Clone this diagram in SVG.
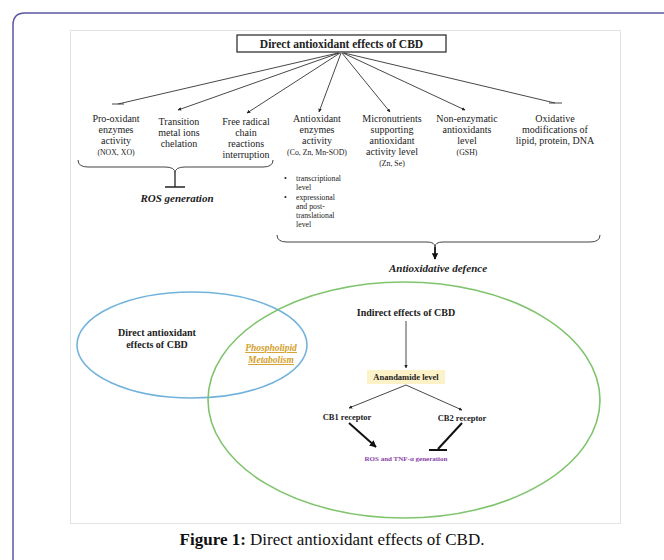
<svg xmlns="http://www.w3.org/2000/svg" width="664" height="560" viewBox="0 0 664 560">
<defs>
<style>
text{font-family:'Liberation Serif',serif}
.t{fill:#222;text-anchor:middle}
.lbl{font-size:10px}
.sm{font-size:7.8px}
.b{font-weight:bold}
.bi{font-weight:bold;font-style:italic;font-size:11px}
.ln{stroke:#333;stroke-width:0.9;fill:none}
.br{stroke:#444;stroke-width:1;fill:none}
</style>
<marker id="ah" viewBox="0 0 10 10" refX="9" refY="5" markerWidth="4" markerHeight="4" orient="auto">
<path d="M0,0 L10,5 L0,10 z" fill="#222"/>
</marker>
<marker id="ahb" viewBox="0 0 10 10" refX="9" refY="5" markerWidth="3.5" markerHeight="3.5" orient="auto">
<path d="M0,0 L10,5 L0,10 z" fill="#111"/>
</marker>
</defs>
<rect width="664" height="560" fill="#fff"/>
<path d="M13,560 V25 Q13,13 25,13 H664" fill="none" stroke="#5b55a0" stroke-width="1.5"/>
<rect x="70.5" y="30.5" width="550" height="493" fill="#fff" stroke="#e2e2e2" stroke-width="1"/>

<g id="ellipses">
<ellipse id="blue-ellipse" cx="192" cy="345" rx="115" ry="53" fill="none" stroke="#72b2dc" stroke-width="1.6"/>
<ellipse id="green-ellipse" cx="404" cy="400" rx="196" ry="118" fill="none" stroke="#7fc46c" stroke-width="1.6"/>
</g>

<g id="connectors">
<line class="ln" x1="338" y1="53" x2="118" y2="104"/>
<line class="ln" x1="112" y1="104" x2="124" y2="104"/>
<line class="ln" x1="339" y1="53" x2="178" y2="110" marker-end="url(#ah)"/>
<line class="ln" x1="340" y1="53" x2="247" y2="113" marker-end="url(#ah)"/>
<line class="ln" x1="341" y1="53" x2="319" y2="112" marker-end="url(#ah)"/>
<line class="ln" x1="342" y1="53" x2="390" y2="112" marker-end="url(#ah)"/>
<line class="ln" x1="343" y1="53" x2="465" y2="110" marker-end="url(#ah)"/>
<line class="ln" x1="344" y1="53" x2="555" y2="103"/>
<line class="ln" x1="549" y1="103" x2="562" y2="103"/>
<path class="br" d="M78,160 Q78,167 88,167 L165,167 Q175,167 175,173 Q175,167 185,167 L263,167 Q273,167 273,160"/>
<line x1="175" y1="173" x2="175" y2="187" stroke="#222" stroke-width="1.3"/>
<line x1="165" y1="187" x2="185" y2="187" stroke="#222" stroke-width="1.5"/>
<path class="br" d="M277,235 Q277,242 287,242 L427,242 Q435,242 435,247 Q435,242 443,242 L590,242 Q600,242 600,235"/>
<line x1="435" y1="247" x2="435" y2="259" stroke="#111" stroke-width="1.8" marker-end="url(#ahb)"/>
<line class="ln" x1="406" y1="321" x2="406" y2="368" marker-end="url(#ah)"/>
<line class="ln" x1="406" y1="385" x2="349" y2="408" marker-end="url(#ah)"/>
<line class="ln" x1="406" y1="385" x2="462" y2="410" marker-end="url(#ah)"/>
<line x1="349" y1="423" x2="376" y2="447" stroke="#111" stroke-width="2" marker-end="url(#ahb)"/>
<line x1="462" y1="423" x2="438" y2="449" stroke="#111" stroke-width="2"/>
<line x1="429" y1="450" x2="447" y2="450" stroke="#111" stroke-width="2"/>
</g>

<g id="title-node">
<rect x="237" y="35" width="209" height="17" fill="#fff" stroke="#222" stroke-width="1.2"/>
<text class="t b" x="341.5" y="47.5" font-size="11.5">Direct antioxidant effects of CBD</text>
</g>
<g id="pro-oxidant">
<text class="t lbl" x="116" y="122">Pro-oxidant</text>
<text class="t lbl" x="116" y="133">enzymes</text>
<text class="t lbl" x="116" y="144">activity</text>
<text class="t sm" x="116" y="155">(NOX, XO)</text>
</g>
<g id="transition">
<text class="t lbl" x="179" y="125">Transition</text>
<text class="t lbl" x="179" y="136">metal ions</text>
<text class="t lbl" x="179" y="147">chelation</text>
</g>
<g id="free-radical">
<text class="t lbl" x="246" y="125">Free radical</text>
<text class="t lbl" x="246" y="136">chain</text>
<text class="t lbl" x="246" y="147">reactions</text>
<text class="t lbl" x="246" y="158">interruption</text>
</g>
<g id="antioxidant-enzymes">
<text class="t lbl" x="317" y="122">Antioxidant</text>
<text class="t lbl" x="317" y="133">enzymes</text>
<text class="t lbl" x="317" y="144">activity</text>
<text class="t sm" x="317" y="155">(Co, Zn, Mn-SOD)</text>
<g font-size="7.8" fill="#222">
<text x="284" y="181">•</text>
<text x="296" y="181">transcriptional</text>
<text x="296" y="190">level</text>
<text x="284" y="200">•</text>
<text x="296" y="200">expressional</text>
<text x="296" y="209">and post-</text>
<text x="296" y="218">translational</text>
<text x="296" y="227">level</text>
</g>
</g>
<g id="micronutrients">
<text class="t lbl" x="392" y="122">Micronutrients</text>
<text class="t lbl" x="392" y="133">supporting</text>
<text class="t lbl" x="392" y="144">antioxidant</text>
<text class="t lbl" x="392" y="155">activity level</text>
<text class="t sm" x="392" y="166">(Zn, Se)</text>
</g>
<g id="non-enzymatic">
<text class="t lbl" x="467" y="122">Non-enzymatic</text>
<text class="t lbl" x="467" y="133">antioxidants</text>
<text class="t lbl" x="467" y="144">level</text>
<text class="t sm" x="467" y="155">(GSH)</text>
</g>
<g id="oxidative">
<text class="t lbl" x="555" y="122">Oxidative</text>
<text class="t lbl" x="555" y="133">modifications of</text>
<text class="t lbl" x="555" y="144">lipid, protein, DNA</text>
</g>
<g id="ros-generation">
<text class="t bi" x="177" y="202">ROS generation</text>
</g>
<g id="antioxidative-defence">
<text class="t bi" x="438" y="272">Antioxidative defence</text>
</g>
<g id="direct-effects">
<text class="t b" x="157" y="336" font-size="10">Direct antioxidant</text>
<text class="t b" x="157" y="348" font-size="10">effects of CBD</text>
</g>
<g id="phospholipid">
<text class="t" x="271" y="351" font-size="9.5" font-style="italic" font-weight="bold" style="fill:#d4a02a" text-decoration="underline">Phospholipid</text>
<text class="t" x="271" y="363" font-size="9.5" font-style="italic" font-weight="bold" style="fill:#d4a02a" text-decoration="underline">Metabolism</text>
</g>
<g id="indirect-effects">
<text class="t b" x="406" y="316" font-size="10">Indirect  effects of CBD</text>
</g>
<g id="anandamide">
<rect x="367" y="370" width="78" height="14" fill="#fdf1c8"/>
<text class="t b" x="406" y="380" font-size="8.5">Anandamide level</text>
</g>
<g id="cb1">
<text class="t b" x="347" y="420" font-size="8.5">CB1 receptor</text>
</g>
<g id="cb2">
<text class="t b" x="462" y="421" font-size="8.5">CB2 receptor</text>
</g>
<g id="ros-tnf">
<text class="t b" x="406" y="461" font-size="7" style="fill:#8a3fa6">ROS and TNF-α generation</text>
</g>
<g id="caption">
<text x="332" y="545" font-size="17" fill="#111" text-anchor="middle"><tspan font-weight="bold">Figure 1:</tspan> Direct antioxidant effects of CBD.</text>
</g>
</svg>
